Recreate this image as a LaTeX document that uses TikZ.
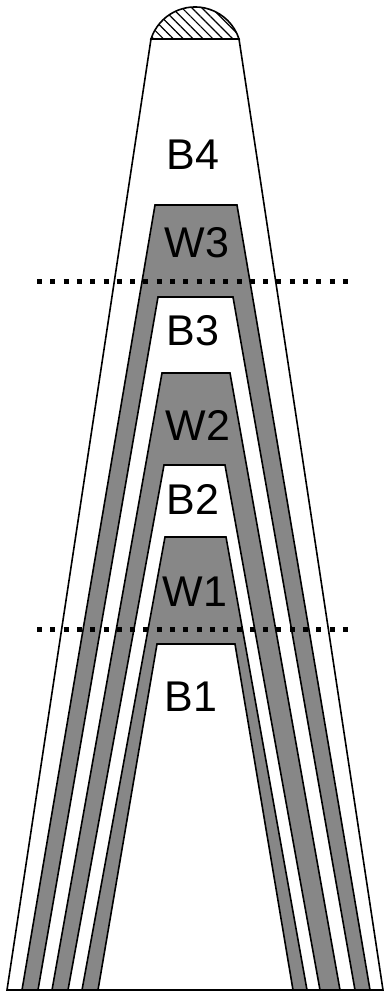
\documentclass[tikz,border=0pt]{standalone}
\usepackage{fontspec}
\setmainfont{Liberation Sans}
\usepackage{tikz}
\usetikzlibrary{calc}
\usetikzlibrary{patterns.meta}
\definecolor{layergray}{gray}{0.53}
\newcommand{\createlayer}[6]{\filldraw[#6,draw=black,line width=1.6pt,line join=miter] ( #2 , -#1 ) -- ( #3 , -#1 ) -- ( #5 , -990 ) -- ( #4 , -990 ) -- cycle;}

\begin{document}
\begin{tikzpicture}[x=1pt,y=1pt,
    lbl/.style={font=\fontsize{43}{43}\selectfont,inner sep=0pt},
    sepline/.style={line width=5pt,dash pattern=on 5pt off 8.3pt}]
    \useasboundingbox (0,0) rectangle (386,-994);
    %cap
    \filldraw[pattern={Lines[angle=-45,distance=7pt,line width=1.2pt]},line width=1.6pt]
      (151,-39) arc[start angle=162.1,end angle=17.9,radius=46.25pt] -- cycle;
    %layers, outside in
    \( \createlayer{39}{151}{239}{7}{383}{white} \);
    \( \createlayer{205}{155}{237}{22}{370}{layergray} \);
    \( \createlayer{297}{158}{233}{38}{355}{white} \);
    \( \createlayer{373}{162}{230}{52}{340}{layergray} \);
    \( \createlayer{465}{164}{225}{68}{320}{white} \);
    \( \createlayer{537}{165}{226}{82}{307}{layergray} \);
    \( \createlayer{644}{157}{235}{98}{293}{white} \);
    %labels
    \node[lbl] (b4) at (193,-155) {B4};
    \node[lbl] (w3) at (197,-243) {W3};
    \node[lbl] (b3) at (193,-331) {B3};
    \node[lbl] (w2) at (198,-425) {W2};
    \node[lbl] (b2) at (193,-499) {B2};
    \node[lbl] (w1) at (195,-592) {W1};
    \node[lbl] (b1) at (191,-697) {B1};
    %dotted cuts
    \foreach \cut/\yy in {upper/281, lower/629} {
    \coordinate (\cut l) at (37,-\yy);
    \coordinate (\cut r) at (352,-\yy);
    \draw[sepline] (\cut l) -- (\cut r);}
\end{tikzpicture}
\end{document}
